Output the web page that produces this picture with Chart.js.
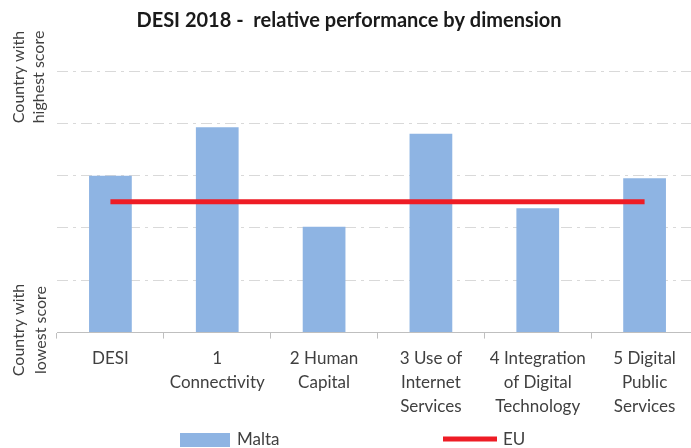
<!DOCTYPE html>
<html>
<head>
<meta charset="utf-8">
<script src="https://cdn.jsdelivr.net/npm/chart.js@4/dist/chart.umd.min.js"></script>
<style>
  html, body { margin: 0; padding: 0; background: #fff; overflow: hidden; }
  #wrap { width: 698px; height: 456px; }
</style>
</head>
<body>
<div id="wrap"><canvas id="grafica"></canvas></div>
<script>
// datos
var categorias = [
    ['DESI'],
    ['1', 'Connectivity'],
    ['2 Human', 'Capital'],
    ['3 Use of', 'Internet', 'Services'],
    ['4 Integration', 'of Digital', 'Technology'],
    ['5 Digital', 'Public', 'Services']
];
var valoresMalta = [0.60, 0.785, 0.405, 0.76, 0.475, 0.59];
var valoresEU = [0.5, 0.5, 0.5, 0.5, 0.5, 0.5];
var etiquetaArriba = ['Country with', 'highest score'];
var etiquetaAbajo = ['Country with', 'lowest score'];
var titulo = 'DESI 2018 -  relative performance by dimension';

var fuente = 'Lato, "Open Sans", sans-serif';
var colorMalta = '#8eb4e3';
var colorEU = '#ee1c25';

// textos rotados del eje vertical
var etiquetasEjeY = {
    id: 'etiquetasEjeY',
    afterDraw: function (chart) {
        var ctx = chart.ctx;
        ctx.save();
        ctx.fillStyle = '#404040';
        ctx.font = '16px ' + fuente;
        ctx.textAlign = 'center';
        ctx.textBaseline = 'middle';
        dibujaRotado(ctx, etiquetaArriba, 19, 39, 77);
        dibujaRotado(ctx, etiquetaAbajo, 19, 41, 330);
        ctx.restore();
    }
};

function dibujaRotado(ctx, lineas, x1, x2, y) {
    var xs = [x1, x2];
    for (var i = 0; i < lineas.length; i++) {
        ctx.save();
        ctx.translate(xs[i], y);
        ctx.rotate(-Math.PI / 2);
        ctx.fillText(lineas[i], 0, 0);
        ctx.restore();
    }
}

// leyenda de abajo, dibujada a mano por el espacio entre elementos
var leyendaAbajo = {
    id: 'leyendaAbajo',
    afterDraw: function (chart) {
        var ctx = chart.ctx;
        var ds = chart.data.datasets;
        var y = 440;
        ctx.save();
        ctx.font = '17px ' + fuente;
        ctx.textBaseline = 'middle';
        ctx.textAlign = 'left';
        ctx.fillStyle = colorMalta;
        ctx.fillRect(180, y - 7, 50, 14);
        ctx.fillStyle = '#404040';
        ctx.fillText(ds[0].label, 237, y);
        ctx.strokeStyle = colorEU;
        ctx.lineWidth = 5;
        ctx.beginPath();
        ctx.moveTo(443, y - 1);
        ctx.lineTo(497, y - 1);
        ctx.stroke();
        ctx.fillText(ds[1].label, 503, y);
        ctx.restore();
    }
};

new Chart(document.getElementById('grafica'), {
    type: 'bar',
    data: {
        labels: categorias,
        datasets: [{
            type: 'bar',
            label: 'Malta',
            data: valoresMalta,
            backgroundColor: colorMalta,
            barPercentage: 0.4,
            categoryPercentage: 1,
            order: 1
        }, {
            type: 'line',
            label: 'EU',
            data: valoresEU,
            borderColor: colorEU,
            backgroundColor: colorEU,
            borderWidth: 5,
            pointRadius: 0,
            fill: false,
            order: 0
        }]
    },
    plugins: [etiquetasEjeY, leyendaAbajo],
    options: {
        responsive: true,
        maintainAspectRatio: false,
        animation: false,
        layout: { padding: { left: 0, right: 0, top: 0, bottom: 29 } },
        scales: {
            x: {
                grid: { display: true, drawOnChartArea: false, drawTicks: true, tickLength: 6, color: '#bfbfbf', offset: true },
                border: { display: true, color: '#bfbfbf', width: 1 },
                ticks: { color: '#404040', font: { family: fuente, size: 17, lineHeight: 1.42 }, maxRotation: 0, autoSkip: false, padding: 8 }
            },
            y: {
                min: 0,
                max: 1,
                afterFit: function (escala) { escala.width = 57; },
                ticks: { display: false, stepSize: 0.2 },
                grid: { color: '#d9d9d9', drawTicks: false },
                border: { display: false, dash: [11, 5, 3, 5] }
            }
        },
        plugins: {
            title: {
                display: true,
                text: titulo,
                color: '#1a1a1a',
                font: { family: fuente, size: 20, weight: 'bold' },
                padding: { top: 9, bottom: 38 }
            },
            legend: { display: false },
            tooltip: { enabled: false }
        }
    }
});
</script>
</body>
</html>
